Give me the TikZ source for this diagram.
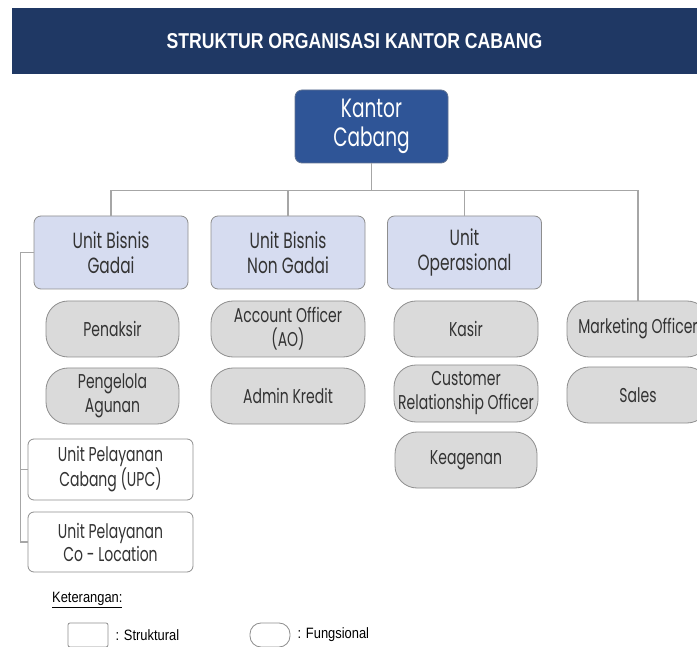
\documentclass[tikz,border=0pt]{standalone}
\usepackage{fontspec}
\usepackage{tikz}
\usetikzlibrary{positioning,calc}
\newfontfamily\boxfont[FakeStretch=0.7]{Poppins}
\newfontfamily\narrowfont[FakeStretch=0.82]{Liberation Sans}
\newfontfamily\legendfont[FakeStretch=0.86]{Liberation Sans}
\definecolor{navy}{HTML}{1F3864}
\definecolor{headblue}{HTML}{2F5597}
\definecolor{unitbg}{HTML}{D6DCF0}
\definecolor{rolebg}{HTML}{DADADA}
\definecolor{edgegray}{HTML}{8E8E8E}
\definecolor{linegray}{HTML}{A6A6A6}
\definecolor{textgray}{HTML}{333333}
\tikzset{
  banner/.style={fill=navy,minimum width=685pt,minimum height=66pt,
                 text=white,font=\narrowfont\bfseries\fontsize{21.5}{25}\selectfont},
  headbox/.style={draw=navy!70,fill=headblue,line width=0.8pt,rounded corners=7pt,
                  minimum width=153pt,minimum height=73pt,align=center,
                  text=white,font=\boxfont\fontsize{26.5}{29}\selectfont},
  unitbox/.style={draw=edgegray,fill=unitbg,line width=0.8pt,rounded corners=7pt,
                  minimum width=154pt,minimum height=73pt,align=center,
                  text=textgray,font=\boxfont\fontsize{22}{25}\selectfont},
  rolebox/.style={draw=edgegray,fill=rolebg,line width=0.8pt,rounded corners=22pt,
                  minimum width=133pt,minimum height=56pt,align=center,inner sep=1pt,
                  text=textgray,font=\boxfont\fontsize{20}{24}\selectfont},
  subbox/.style={draw=edgegray,fill=white,line width=0.8pt,rounded corners=6pt,
                 minimum width=165pt,minimum height=60pt,align=center,
                 text=textgray,font=\boxfont\fontsize{20}{23}\selectfont},
  link/.style={draw=linegray,line width=1.1pt},
  legendtext/.style={inner sep=0pt,anchor=west,text=black,
                     font=\legendfont\fontsize{15}{18}\selectfont}
}
\begin{document}
\begin{tikzpicture}[x=1pt,y=-1pt]
  \useasboundingbox[fill=white] (0,0) rectangle (697,647);

  % Title banner
  \node[banner] (title) at (354.5,41) {STRUKTUR ORGANISASI KANTOR CABANG};

  % Head of the branch
  \node[headbox] (kantor) at (371.5,126.5) {Kantor\\Cabang};

  % Structural units
  \node[unitbox] (gadai) at (111,252.5) {Unit Bisnis\\Gadai};
  \node[unitbox] (nongadai) at (288,252.5) {Unit Bisnis\\Non Gadai};
  \node[unitbox] (operasional) at (464.5,252.5) {Unit\\Operasional};

  % Functional roles
  \node[rolebox] (penaksir) at (112.5,329) {Penaksir};
  \node[rolebox] (pengelola) at (112.5,396) {Pengelola\\Agunan};
  \node[rolebox,minimum width=154pt] (ao) at (288,329) {Account Officer\\(AO)};
  \node[rolebox,minimum width=154pt] (admin) at (288,396) {Admin Kredit};
  \node[rolebox,minimum width=144pt] (kasir) at (466,329) {Kasir};
  \node[rolebox,minimum width=144pt,minimum height=57pt] (cro) at (466,393.5) {Customer\\Relationship Officer};
  \node[rolebox,minimum width=142pt] (keagenan) at (466,460) {Keagenan};
  \node[rolebox,minimum width=142pt] (marketing) at (638,329) {Marketing Officer};
  \node[rolebox,minimum width=142pt] (sales) at (638,395) {Sales};

  % Service units under Gadai
  \node[subbox,minimum height=61pt] (upc) at (110.5,469.5) {Unit Pelayanan\\Cabang (UPC)};
  \node[subbox] (upcl) at (110.5,542) {Unit Pelayanan\\Co - Location};

  % Connectors
  \draw[link] (kantor.south) -- ++(0,27) coordinate (bus);
  \draw[link] (gadai.north) |- (bus) -| (marketing.north);
  \draw[link] (nongadai.north) -- (nongadai.north |- bus);
  \draw[link] (operasional.north) -- (operasional.north |- bus);
  \draw[link] (gadai.west) -- ++(-13,0) coordinate (spine) |- (upcl.west);
  \draw[link] (upc.west) -- (upc.west -| spine);

  % Legend
  \node[legendtext] (ket) at (52,600) {\underline{Keterangan:}};
  \node[draw=edgegray,line width=0.8pt,rounded corners=2pt,minimum width=40pt,
        minimum height=24pt] (legsq) at (88,635) {};
  \node[legendtext,right=7pt of legsq] (legsqtxt) {: Struktural};
  \node[draw=edgegray,line width=0.8pt,rounded corners=11pt,minimum width=40pt,
        minimum height=24pt] (legpill) at (270,635) {};
  \node[legendtext,right=7pt of legpill] (legpilltxt) {: Fungsional};
\end{tikzpicture}
\end{document}
